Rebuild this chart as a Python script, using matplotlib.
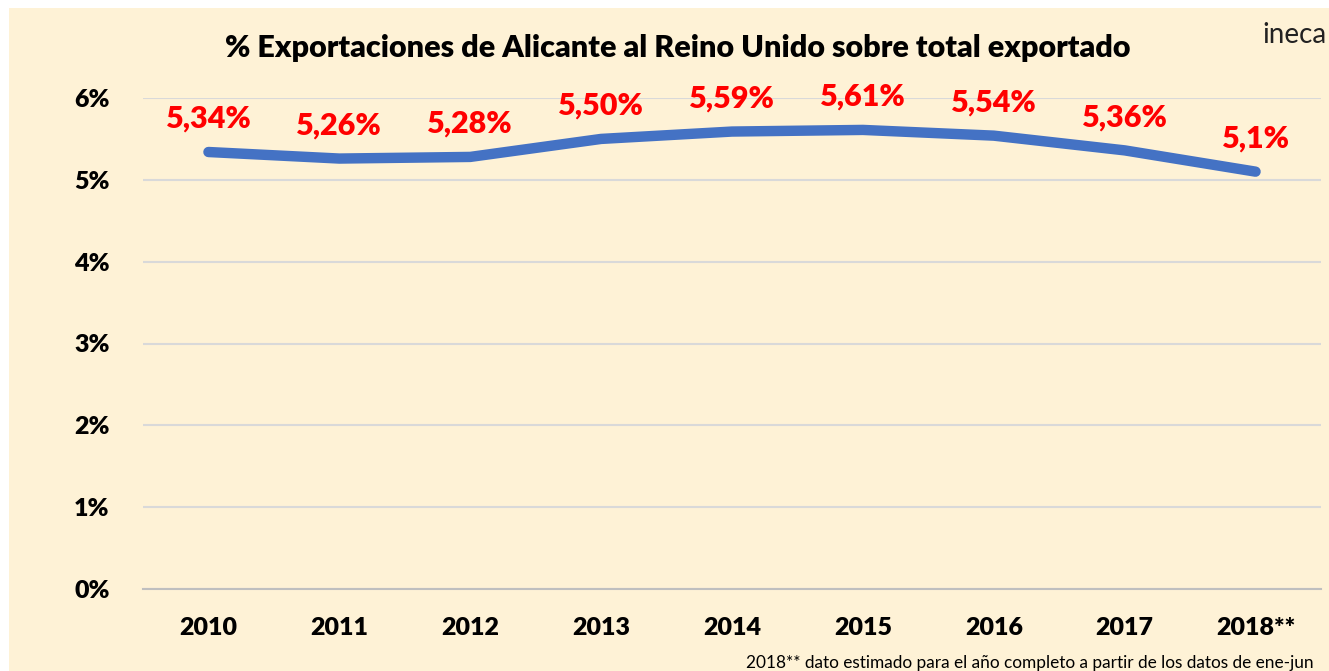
import matplotlib.pyplot as plt
from matplotlib.patches import Rectangle

years = ['2010', '2011', '2012', '2013', '2014', '2015', '2016', '2017', '2018**']
share = [5.34, 5.26, 5.28, 5.50, 5.59, 5.61, 5.54, 5.36, 5.10]
value_labels = ['5,34%', '5,26%', '5,28%', '5,50%', '5,59%', '5,61%', '5,54%', '5,36%', '5,1%']
y_ticks = [0, 1, 2, 3, 4, 5, 6]

plt.rcParams['font.family'] = ['Lato', 'DejaVu Sans']

W, H = 1329, 671
fig = plt.figure(figsize=(W / 100, H / 100), dpi=100)
fig.patch.set_facecolor('white')
# cream panel behind the chart, leaving a thin white margin top/left
fig.patches.append(Rectangle((9 / W, 0), 1, 1 - 8 / H, transform=fig.transFigure,
                             facecolor='#FEF2D6', edgecolor='none', zorder=-10))

ax = fig.add_axes([143 / W, 1 - 589 / H, (1321 - 143) / W, (589 - 98) / H])
ax.set_facecolor('none')

x = list(range(len(years)))
ax.plot(x, share, color='#4472C4', lw=7.5, solid_capstyle='round', solid_joinstyle='round', zorder=3)

for xi, v, lab in zip(x, share, value_labels):
    ax.annotate(lab, (xi, v), xytext=(0, 24), textcoords='offset points',
                ha='center', va='center', color='#FF0000', fontsize=22, fontweight='heavy')

ax.set_xlim(-0.5, len(years) - 0.5)
ax.set_ylim(0, 6)
ax.set_yticks(y_ticks)
ax.set_yticklabels([f'{t}%' for t in y_ticks])
ax.set_xticks(x)
ax.set_xticklabels(years)
ax.tick_params(axis='y', length=0, pad=24, labelsize=18)
ax.tick_params(axis='x', length=0, pad=20, labelsize=18)
for lbl in ax.get_xticklabels() + ax.get_yticklabels():
    lbl.set_fontweight('heavy')

ax.grid(axis='y', color='#D9D9D9', lw=1.5)
ax.set_axisbelow(True)
for s in ['top', 'right', 'left']:
    ax.spines[s].set_visible(False)
ax.spines['bottom'].set_color('#BFBFBF')
ax.spines['bottom'].set_linewidth(1.5)

fig.text(678 / W, 1 - 48 / H, '% Exportaciones de Alicante al Reino Unido sobre total exportado',
         ha='center', va='center', fontsize=22, fontweight='heavy')
fig.text(1262 / W, 1 - 35 / H, 'ineca', ha='left', va='center', fontsize=20, color='#222222')
fig.text(746 / W, 1 - 663 / H,
         '2018** dato estimado para el año completo a partir de los datos de ene-jun',
         ha='left', va='center', fontsize=12.4)

fig.savefig('out.png', dpi=100)
